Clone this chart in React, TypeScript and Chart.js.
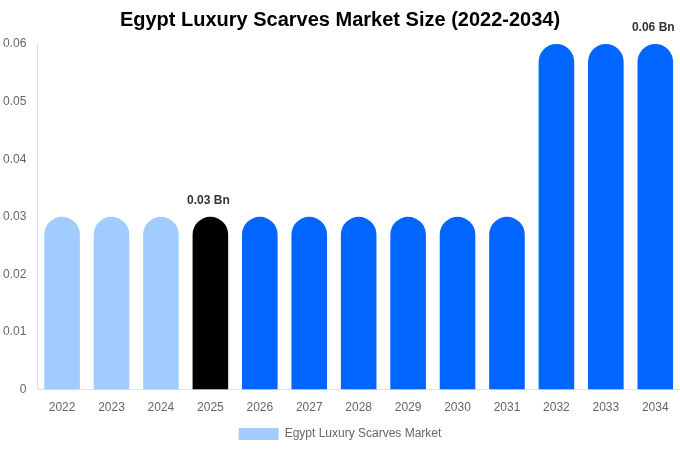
import { useEffect, useRef } from "react";
import { Chart, registerables } from "chart.js";

Chart.register(...registerables);

const years = ["2022", "2023", "2024", "2025", "2026", "2027", "2028", "2029", "2030", "2031", "2032", "2033", "2034"];
const marketSize = [0.03, 0.03, 0.03, 0.03, 0.03, 0.03, 0.03, 0.03, 0.03, 0.03, 0.06, 0.06, 0.06];
const barColors = [
  "#a0cdfd", "#a0cdfd", "#a0cdfd", "#000000",
  "#0066ff", "#0066ff", "#0066ff", "#0066ff", "#0066ff", "#0066ff", "#0066ff", "#0066ff", "#0066ff",
];
// which bars get a value label
const labelled = [3, 12];

const valueLabels = {
  id: "valueLabels",
  afterDatasetsDraw(chart: any) {
    const ctx = chart.ctx;
    const meta = chart.getDatasetMeta(0);
    ctx.save();
    ctx.font = "bold 12px 'Liberation Sans', Arial, sans-serif";
    ctx.fillStyle = "#333";
    ctx.textAlign = "center";
    ctx.textBaseline = "bottom";
    labelled.forEach((i) => {
      const bar = meta.data[i];
      ctx.fillText(marketSize[i].toFixed(2) + " Bn", bar.x - 2, bar.y - 10);
    });
    ctx.restore();
  },
};

export default function App() {
  const canvasRef = useRef<HTMLCanvasElement>(null);

  useEffect(() => {
    document.body.style.margin = "0";
    const ctx = canvasRef.current?.getContext("2d");
    if (!ctx) return;

    const chart = new Chart(ctx, {
      type: "bar",
      data: {
        labels: years,
        datasets: [{
          label: "Egypt Luxury Scarves Market",
          data: marketSize,
          backgroundColor: barColors,
          borderRadius: { topLeft: 18, topRight: 18, bottomLeft: 0, bottomRight: 0 },
          borderSkipped: false,
        }],
      },
      options: {
        animation: false,
        responsive: true,
        maintainAspectRatio: false,
        layout: { padding: 0 },
        plugins: {
          title: {
            display: true,
            text: "Egypt Luxury Scarves Market Size (2022-2034)",
            color: "#000",
            font: { size: 20, weight: "bold", family: "'Liberation Sans', Arial, sans-serif" },
            padding: { top: 8, bottom: 12 },
          },
          legend: {
            position: "bottom",
            labels: {
              boxWidth: 40,
              boxHeight: 12,
              color: "#666",
              font: { size: 12, family: "'Liberation Sans', Arial, sans-serif" },
            },
          },
          tooltip: { enabled: false },
        },
        scales: {
          x: {
            grid: { display: false },
            border: { display: true, color: "#e0e0e0" },
            ticks: { color: "#666", font: { size: 12, family: "'Liberation Sans', Arial, sans-serif" } },
          },
          y: {
            min: 0,
            max: 0.06,
            grid: { display: false },
            border: { display: true, color: "#e0e0e0" },
            ticks: {
              stepSize: 0.01,
              color: "#666",
              font: { size: 12, family: "'Liberation Sans', Arial, sans-serif" },
            },
          },
        },
      },
      plugins: [valueLabels],
    });

    return () => chart.destroy();
  }, []);

  return (
    <div style={{ width: 680, height: 450, position: "relative" }}>
      <canvas ref={canvasRef} />
    </div>
  );
}
